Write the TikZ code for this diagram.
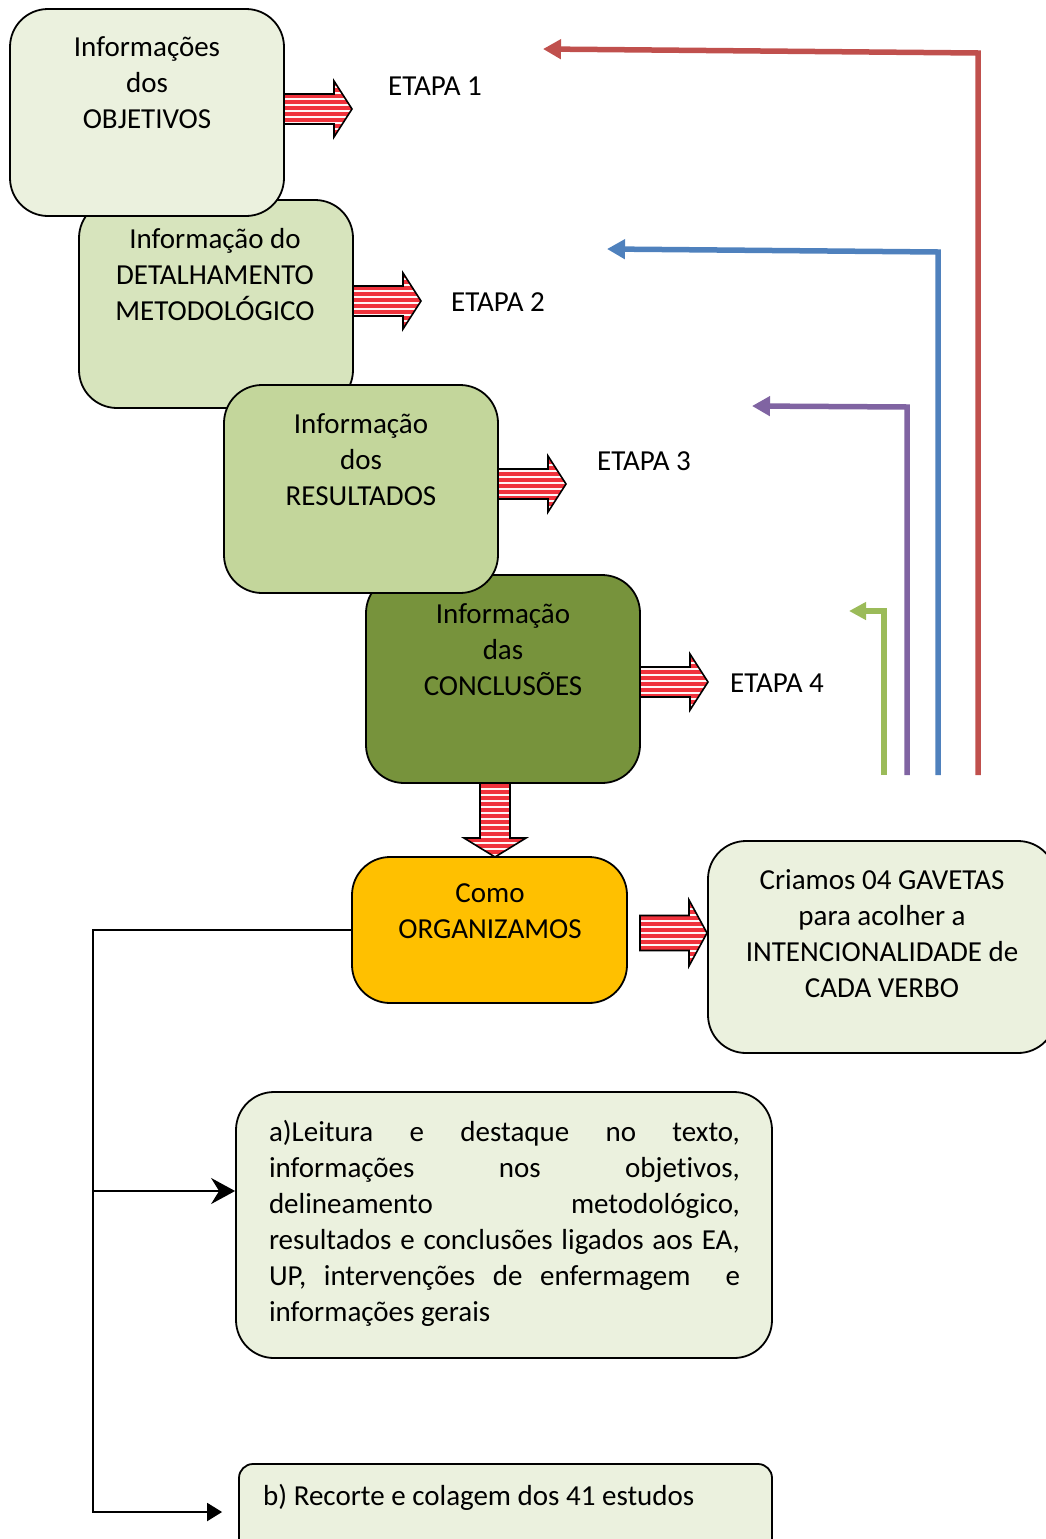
\documentclass[tikz,border=0pt]{standalone}
\usepackage{fontspec}
\setmainfont{Carlito}[RawFeature={-liga;-clig}]
\usetikzlibrary{arrows.meta,patterns.meta}
\definecolor{gA}{HTML}{EBF1DE}
\definecolor{gB}{HTML}{D7E4BD}
\definecolor{gC}{HTML}{C3D69B}
\definecolor{gD}{HTML}{77933C}
\definecolor{orgc}{HTML}{FFC000}
\definecolor{redl}{HTML}{C0504D}
\definecolor{bluel}{HTML}{4F81BD}
\definecolor{purl}{HTML}{8064A2}
\definecolor{grnl}{HTML}{9BBB59}
\definecolor{stripred}{RGB}{240,50,60}
\tikzset{
  box/.style={draw=black, line width=1.8pt, rounded corners=38pt, inner sep=0pt},
  txt/.style={align=center, inner sep=0pt, font=\fontsize{29}{36}\selectfont},
  stripe/.style={draw=black, line width=1.6pt, line join=miter,
    preaction={fill=stripred},
    pattern={Lines[angle=0,distance=6pt,line width=2.4pt]}, pattern color=white!85!pink},
  rarrow/.pic={\draw[stripe] (0,-15) -- (50,-15) -- (50,-28) -- (68,0) -- (50,28) -- (50,15) -- (0,15) -- cycle;},
  rarrowbig/.pic={\draw[stripe] (0,-17.5) -- (49,-17.5) -- (49,-33) -- (67,0) -- (49,33) -- (49,17.5) -- (0,17.5) -- cycle;},
  darrow/.pic={\draw[stripe] (-15,0) -- (-15,55) -- (-31,55) -- (0,74) -- (31,55) -- (15,55) -- (15,0) -- cycle;},
  cline/.style={line width=5.5pt, -{Triangle[length=18pt,width=19pt]}},
  bline/.style={draw=black, line width=2pt}
}
\begin{document}
\begin{tikzpicture}[x=1pt,y=-1pt]
\useasboundingbox (0,0) rectangle (1046,1539);
\clip (0,0) rectangle (1046,1539);

% boxes, in layering order
\node[box, fill=gB, minimum width=274pt, minimum height=208pt] (b2) at (216,304) {};
\node[box, fill=gD, minimum width=274pt, minimum height=208pt] (b4) at (503,679) {};
\node[box, fill=gA, minimum width=274pt, minimum height=207pt] (b1) at (147,112.5) {};
\node[box, fill=gC, minimum width=274pt, minimum height=208pt] (b3) at (361,489) {};
\node[box, fill=orgc, minimum width=275pt, minimum height=146pt] (org) at (489.5,930) {};
\node[box, fill=gA, minimum width=348pt, minimum height=212pt] (cri) at (882,947) {};
\node[box, fill=gA, minimum width=536pt, minimum height=266pt] (ba) at (504,1225) {};
\node[box, fill=gA, rounded corners=14pt, minimum width=533pt, minimum height=96pt] (bb) at (505.5,1512) {};

% box texts
\node[txt] (t1) at (147,83) {Informações\\dos\\OBJETIVOS};
\node[txt] (t2) at (215,275) {Informação do\\DETALHAMENTO\\METODOLÓGICO};
\node[txt] (t3) at (361,460) {Informação\\dos\\RESULTADOS};
\node[txt] (t4) at (503,650) {Informação\\das\\CONCLUSÕES};
\node[txt] (t5) at (490,911.5) {Como\\ORGANIZAMOS};
\node[txt] (t6) at (882,934) {Criamos 04 GAVETAS\\para acolher a\\INTENCIONALIDADE de\\CADA VERBO};
\node[txt, align=justify, text width=471pt] (t7) at (504.5,1223.5) {a)Leitura e destaque no texto,\linebreak informações nos objetivos,\linebreak delineamento metodológico,\linebreak resultados e conclusões ligados aos EA,\linebreak UP, intervenções de enfermagem~ e\linebreak informações gerais};
\node[txt, anchor=west] (t8) at (263,1497) {b) Recorte e colagem dos 41 estudos};

% ETAPA labels
\node[txt] (e1) at (435,86) {ETAPA 1};
\node[txt] (e2) at (498,302) {ETAPA 2};
\node[txt] (e3) at (644,461) {ETAPA 3};
\node[txt] (e4) at (777,683) {ETAPA 4};

% striped arrows
\pic at (284,109) {rarrow};
\pic at (353,301) {rarrow};
\pic at (498,484) {rarrow};
\pic at (640,682) {rarrow};
\pic at (495,783) {darrow};
\pic at (640,933) {rarrowbig};

% coloured return lines
\coordinate (rS) at (978,775); \coordinate (rC) at (978,53); \coordinate (rE) at (543,49);
\coordinate (uS) at (938,775); \coordinate (uC) at (938,252); \coordinate (uE) at (607,249);
\coordinate (pS) at (907,775); \coordinate (pC) at (907,407); \coordinate (pE) at (752,406);
\coordinate (gS) at (884,775); \coordinate (gC) at (884,611); \coordinate (gE) at (849,611);
\draw[cline, color=redl] (rS) -- (rC) -- (rE);
\draw[cline, color=bluel] (uS) -- (uC) -- (uE);
\draw[cline, color=purl] (pS) -- (pC) -- (pE);
\draw[line width=5.5pt, color=grnl, -{Triangle[length=17pt,width=17pt]}] (gS) -- (gC) -- (gE);

% black connectors
\coordinate (k1) at (93,930);
\coordinate (k2) at (93,1512);
\coordinate (kb) at (93,1191);
\draw[bline, -{Triangle[length=15pt,width=18pt]}] (org.west) -- (k1) -- (k2) -- ([xshift=-16pt]bb.west);
\draw[bline, -{Stealth[length=24pt,width=26pt,inset=8pt]}] (kb) -- (ba.west |- kb);
\end{tikzpicture}
\end{document}
